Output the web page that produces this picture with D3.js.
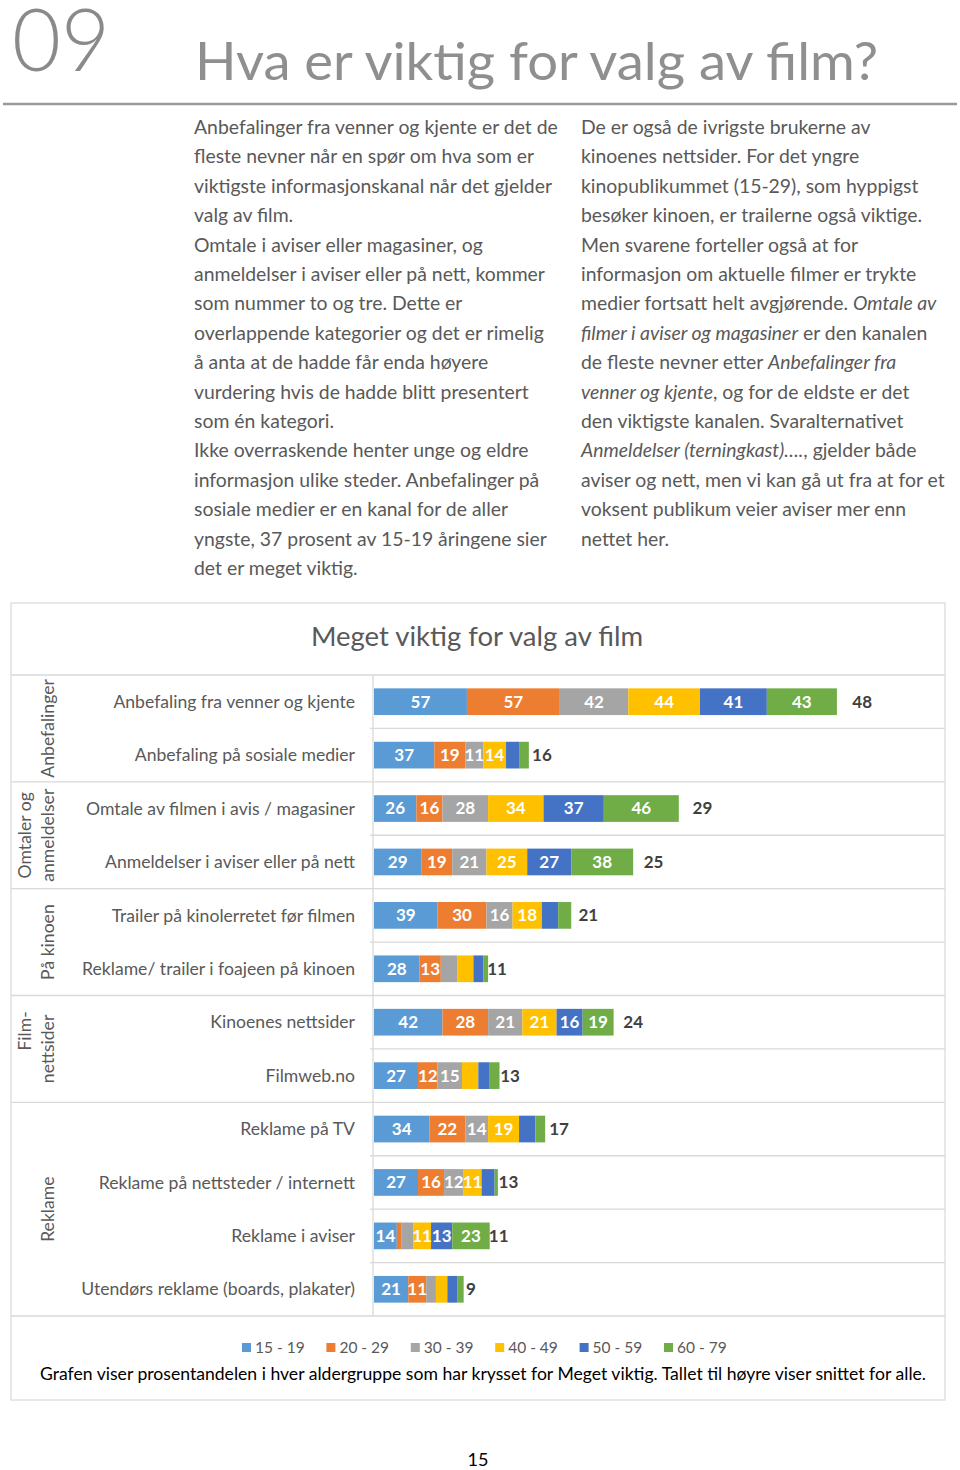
<!DOCTYPE html>
<html><head><meta charset="utf-8">
<script src="https://cdn.jsdelivr.net/npm/d3@7"></script>
<style>body{margin:0;background:#fff}svg{display:block}</style>
</head><body>
<script>
// ---------- data ----------
const ageGroups = ["15 - 19","20 - 29","30 - 39","40 - 49","50 - 59","60 - 79"];
const colors = ["#5B9BD5","#ED7D31","#A5A5A5","#FFC000","#4472C4","#70AD47"];
const categories = [
  "Anbefaling fra venner og kjente","Anbefaling på sosiale medier",
  "Omtale av filmen i avis / magasiner","Anmeldelser i aviser eller på nett",
  "Trailer på kinolerretet før filmen","Reklame/ trailer i foajeen på kinoen",
  "Kinoenes nettsider","Filmweb.no",
  "Reklame på TV","Reklame på nettsteder / internett","Reklame i aviser","Utendørs reklame (boards, plakater)"
];
const groups = [
  {lines:["Anbefalinger"], from:0, to:1},
  {lines:["Omtaler og","anmeldelser"], from:2, to:3},
  {lines:["På kinoen"], from:4, to:5},
  {lines:["Film-","nettsider"], from:6, to:7},
  {lines:["Reklame"], from:8, to:11}
];
const v15_19 = [57,37,26,29,39,28,42,27,34,27,14,21];
const v20_29 = [57,19,16,19,30,13,28,12,22,16,3,11];
const v30_39 = [42,11,28,21,16,10,21,15,14,12,7,6];
const v40_49 = [44,14,34,25,18,10,21,10,19,11,11,7];
const v50_59 = [41,8,37,27,10,6,16,7,10,8,13,6];
const v60_79 = [43,6,46,38,8,3,19,6,6,2,23,4];
const alle   = [48,16,29,25,21,11,24,13,17,13,11,9];
const chartTitle = "Meget viktig for valg av film";
const footnote = "Grafen viser prosentandelen i hver aldergruppe som har krysset for Meget viktig. Tallet til høyre viser snittet for alle.";
const leftText = [
 [["Anbefalinger fra venner og kjente er det de",0]],
 [["fleste nevner når en spør om hva som er",0]],
 [["viktigste informasjonskanal når det gjelder",0]],
 [["valg av film.",0]],
 [["Omtale i aviser eller magasiner, og",0]],
 [["anmeldelser i aviser eller på nett, kommer",0]],
 [["som nummer to og tre. Dette er",0]],
 [["overlappende kategorier og det er rimelig",0]],
 [["å anta at de hadde får enda høyere",0]],
 [["vurdering hvis de hadde blitt presentert",0]],
 [["som én kategori.",0]],
 [["Ikke overraskende henter unge og eldre",0]],
 [["informasjon ulike steder. Anbefalinger på",0]],
 [["sosiale medier er en kanal for de aller",0]],
 [["yngste, 37 prosent av 15-19 åringene sier",0]],
 [["det er meget viktig.",0]]
];
const rightText = [
 [["De er også de ivrigste brukerne av",0]],
 [["kinoenes nettsider. For det yngre",0]],
 [["kinopublikummet (15-29), som hyppigst",0]],
 [["besøker kinoen, er trailerne også viktige.",0]],
 [["Men svarene forteller også at for",0]],
 [["informasjon om aktuelle filmer er trykte",0]],
 [["medier fortsatt helt avgjørende. ",0],["Omtale av",1]],
 [["filmer i aviser og magasiner",1],[" er den kanalen",0]],
 [["de fleste nevner etter ",0],["Anbefalinger fra",1]],
 [["venner og kjente",1],[", og for de eldste er det",0]],
 [["den viktigste kanalen. Svaralternativet",0]],
 [["Anmeldelser (terningkast)….",1],[", gjelder både",0]],
 [["aviser og nett, men vi kan gå ut fra at for et",0]],
 [["voksent publikum veier aviser mer enn",0]],
 [["nettet her.",0]]
];

// ---------- build ----------
const W = 960, H = 1470;
const FONT = "Lato, 'Open Sans', sans-serif";
const svg = d3.select("body").append("svg").attr("width",W).attr("height",H)
  .style("font-family",FONT);
svg.append("rect").attr("width",W).attr("height",H).attr("fill","#fff");

// header
svg.append("text").attr("x",12).attr("y",71).attr("font-size",86).attr("font-weight",300)
  .attr("fill","#8a8a8a").attr("textLength",98).attr("lengthAdjust","spacingAndGlyphs").text("09");
svg.append("text").attr("x",195).attr("y",80).attr("font-size",52).attr("font-weight",400)
  .attr("fill","#8f8f8f").attr("textLength",683).attr("lengthAdjust","spacingAndGlyphs")
  .text("Hva er viktig for valg av film?");
svg.append("line").attr("x1",3).attr("x2",957).attr("y1",104).attr("y2",104)
  .attr("stroke","#9a9a9a").attr("stroke-width",2.5);

function para(lines, x, y0){
  const t = svg.append("g");
  lines.forEach((segs,i)=>{
    const tx = t.append("text").attr("x",x).attr("y",y0+i*29.4).attr("font-size",19.4)
      .attr("fill","#595959");
    segs.forEach(s=>tx.append("tspan").attr("font-style",s[1]?"italic":"normal").text(s[0]));
  });
}
para(leftText,194,134);
para(rightText,581,134);

// chart box
svg.append("rect").attr("x",11).attr("y",603).attr("width",934).attr("height",797)
  .attr("fill","none").attr("stroke","#d9d9d9").attr("stroke-width",1.2);
svg.append("text").attr("x",477).attr("y",646).attr("text-anchor","middle")
  .attr("font-size",27.5).attr("fill","#595959").text(chartTitle);

const keys = ageGroups.concat(["Alle"]);
const table = categories.map((c,i)=>({cat:c,
  "15 - 19":v15_19[i],"20 - 29":v20_29[i],"30 - 39":v30_39[i],
  "40 - 49":v40_49[i],"50 - 59":v50_59[i],"60 - 79":v60_79[i],"Alle":alle[i]}));
const stack = d3.stack().keys(keys)(table);

const x = d3.scaleLinear().domain([0,315]).range([374, 374+315*1.63]);
const y = d3.scaleBand().domain(categories).range([675,1316]).paddingInner(0.5).paddingOuter(0.25);
const step = y.step();
const rowTop = i => 675 + i*step;

// grid lines
const grid = svg.append("g").attr("stroke","#d9d9d9").attr("stroke-width",1.3);
const groupStarts = new Set(groups.map(g=>g.from));
for(let i=0;i<=categories.length;i++){
  const yy = rowTop(i);
  const full = i===categories.length || groupStarts.has(i);
  grid.append("line").attr("x1", full?11:370).attr("x2",945).attr("y1",yy).attr("y2",yy);
}
grid.append("line").attr("x1",373).attr("x2",373).attr("y1",675).attr("y2",1316);

// bars
const clipId = "plotclip";
svg.append("clipPath").attr("id",clipId).append("rect")
  .attr("x",x.range()[0]).attr("y",0).attr("width",x.range()[1]-x.range()[0]).attr("height",H);
const barG = svg.append("g").attr("clip-path",`url(#${clipId})`);
stack.forEach((layer,k)=>{
  if(k>=ageGroups.length) return;
  barG.selectAll(null).data(layer).enter().append("rect")
    .attr("x",d=>x(d[0])).attr("width",d=>x(d[1])-x(d[0]))
    .attr("y",d=>y(d.data.cat)).attr("height",y.bandwidth())
    .attr("fill",colors[k]);
});
// labels
const labG = svg.append("g").attr("font-weight",700).attr("text-anchor","middle");
stack.forEach((layer,k)=>{
  const isAll = k===ageGroups.length;
  labG.selectAll(null).data(layer.filter(d=>isAll || (d[1]-d[0])>=11)).enter().append("text")
    .attr("x",d=>{ const a=x(d[0]), b=Math.min(x(d[1]), x.range()[1]); return (a+b)/2; })
    .attr("y",d=>y(d.data.cat)+y.bandwidth()/2)
    .attr("dy","0.35em").attr("font-size",17)
    .attr("fill",isAll?"#404040":"#fff")
    .text(d=>d[1]-d[0]);
});

// category labels
svg.append("g").selectAll("text").data(categories).enter().append("text")
  .attr("x",355).attr("y",d=>y(d)+y.bandwidth()/2).attr("dy","0.35em")
  .attr("text-anchor","end").attr("font-size",17.6).attr("fill","#595959").text(d=>d);

// group labels
groups.forEach(g=>{
  const cy = (rowTop(g.from)+rowTop(g.to+1))/2;
  const n = g.lines.length;
  g.lines.forEach((ln,j)=>{
    const cx = n===1 ? 48 : (j===0?25:48);
    const t = svg.append("text").attr("transform",`translate(${cx},${cy}) rotate(-90)`)
      .attr("dy","0.35em").attr("font-size",17.6).attr("fill","#595959").attr("text-anchor","middle");
    if(ln==="Film-") t.attr("x",18);
    t.text(ln);
  });
});

// legend
const lg = svg.append("g");
ageGroups.forEach((a,i)=>{
  const lx = 242 + i*84.4;
  lg.append("rect").attr("x",lx).attr("y",1343).attr("width",9).attr("height",9).attr("fill",colors[i]);
  lg.append("text").attr("x",lx+13).attr("y",1348).attr("dy","0.35em").attr("font-size",15.5)
    .attr("fill","#595959").text(a);
});
svg.append("text").attr("x",483).attr("y",1374).attr("dy","0.35em").attr("text-anchor","middle")
  .attr("font-size",17.6).attr("fill","#000").text(footnote);

svg.append("text").attr("x",478).attr("y",1460).attr("dy","0.35em").attr("text-anchor","middle")
  .attr("font-size",18).attr("fill","#000").text("15");
</script>
</body></html>
